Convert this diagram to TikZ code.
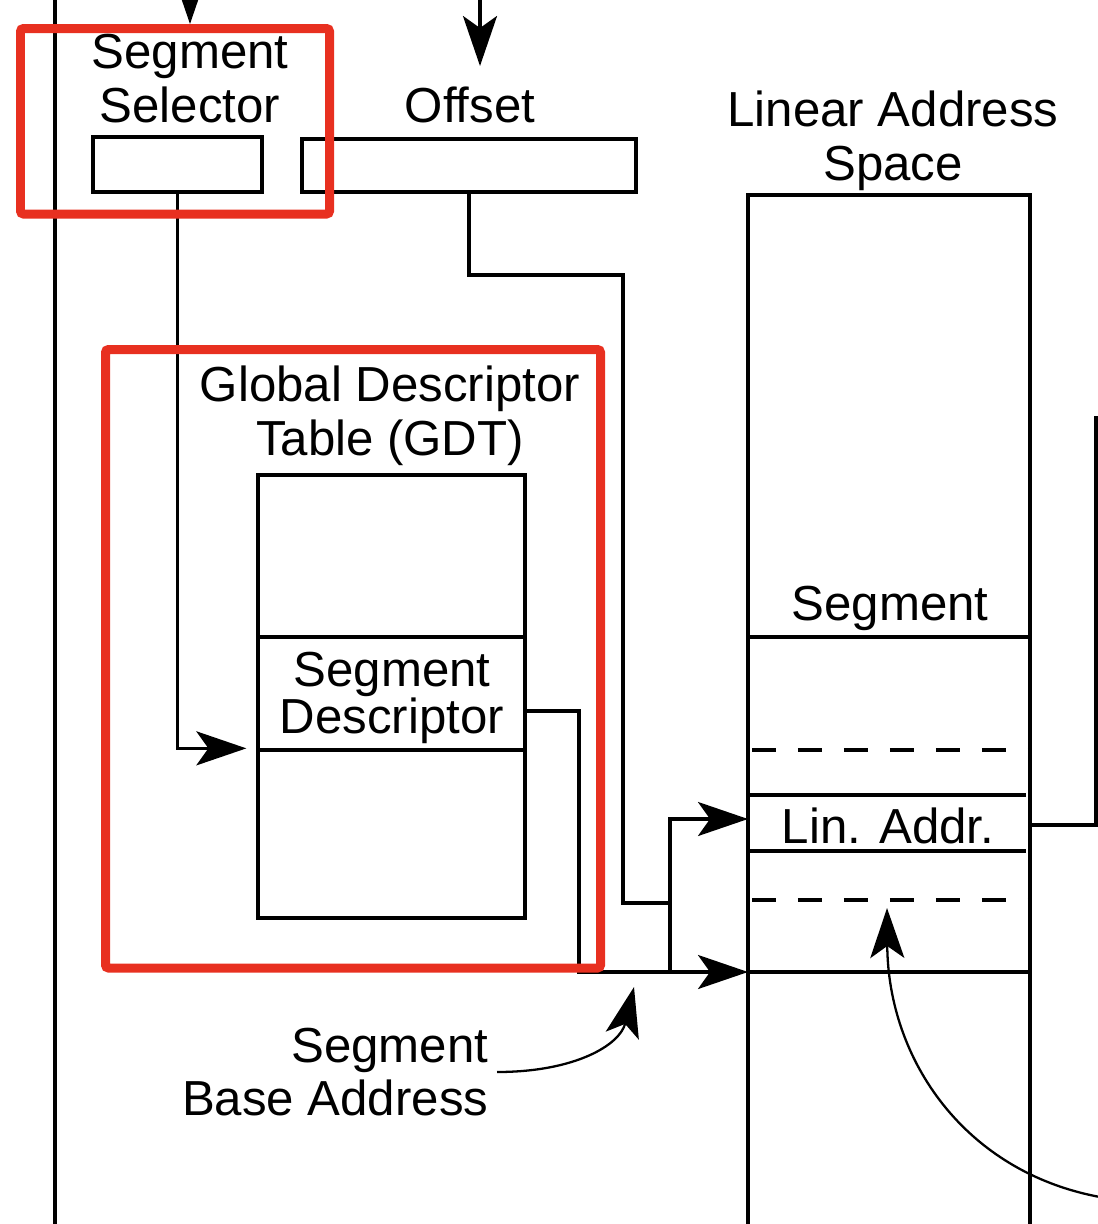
\documentclass[tikz,border=0pt]{standalone}
\usepackage{fontspec}
\setmainfont{Liberation Sans}
\usepackage{xcolor}
\usetikzlibrary{arrows.meta}

\definecolor{hlred}{RGB}{232,48,32}

\tikzset{
  box/.style={draw,line width=1.9pt,inner sep=0pt},
  txt/.style={font=\fontsize{28}{30.5}\selectfont,inner sep=0pt,align=center},
  arr/.style={-{Stealth[length=1.0cm,width=0.68cm,inset=0.24cm]}},
  hl/.style={draw=hlred,line width=0.18cm,rounded corners=0.06cm},
  dsh/.style={dash pattern=on 0.48cm off 0.44cm}
}

\begin{document}
\begin{tikzpicture}[x=0.02cm,y=-0.02cm,line width=1.9pt]
                \useasboundingbox (0,0) rectangle (1098,1224);
                \clip (0,0) rectangle (1098,1224);

                % selector and offset
                \node (ssl) at (190,78.5) [txt] {Segment\\Selector};
                \node (sel) at (177.5,164.5) [box,minimum width=3.38cm,minimum height=1.1cm] {};
                \node (ofl) at (470,105) [txt] {Offset};
                \node (off) at (469,165.5) [box,minimum width=6.68cm,minimum height=1.06cm] {};

                % descriptor table
                \node (gdtl) at (390,416) [txt] {Global Descriptor\\Table (GDT)};
                \node (gdt1) at (391.5,556) [box,minimum width=5.34cm,minimum height=3.24cm] {};
                \node (gdtsd) at (391.5,693.5) [box,minimum width=5.34cm,minimum height=2.26cm] {};
                \node (gdt3) at (391.5,834) [box,minimum width=5.34cm,minimum height=3.36cm] {};
                \node (sdl) at (392,698) [txt,font=\fontsize{28}{26}\selectfont] {Segment\\Descriptor};

                % linear address space
                \node (las) at (893,141) [txt] {Linear Address\\Space};
                \draw (748,1230) -- (748,195) -- (1030,195) -- (1030,1230);
                \draw (748,637) -- (1030,637) (748,972) -- (1030,972);
                \draw (748,795) -- (1026,795) (748,851) -- (1026,851);
                \draw[dsh] (752,750) -- (1030,750) (752,900) -- (1030,900);
                \node (segl) at (890,608) [txt] {Segment};
                \node (lin) at (888,826) [txt] {Lin. Addr.};
                \node (sba) at (490,1072) [txt,anchor=east,align=right] {Segment\\Base Address};

                \coordinate (s0) at (190,-10);
                \coordinate (s1) at (190,24);
                \coordinate (o0) at (480,-10);
                \coordinate (o1) at (480,66);
                \coordinate (la) at (748,819);
                \coordinate (base) at (748,972);
                \coordinate (j1) at (623,275);
                \coordinate (j2) at (670,903);
                \coordinate (j3) at (670,972);
                \coordinate (d1) at (579,972);
                \coordinate (r0) at (1030,825);
                \coordinate (r1) at (1096,416);
                \coordinate (c0) at (1100,1197);
                \coordinate (c1) at (887,908);
                \coordinate (b1) at (634,987);

                \draw (55,-10) -- (55,1234);
                \draw[arr] (s0) -- (s1);
                \draw[arr] (o0) -- (o1);
                \draw[arr] (sel.south) |- ([xshift=-0.2cm]gdt3.north west);
                \draw (off.south) |- (j1) |- (j2);
                \draw[arr] (j3) |- (la);
                \draw[arr] ([yshift=-0.35cm]gdtsd.east) -| (d1) -- (base);
                \draw (r0) -| (r1);
                \draw[arr,line width=1.3pt] (c0) .. controls (965,1172) and (888,1060) .. (c1);
                \draw[arr,line width=1.3pt] ([xshift=0.14cm]sba.east) .. controls (575,1072) and (620,1045) .. (b1);

                % highlights
                \draw[hl] (20.5,28.5) rectangle (329.5,214);
                \draw[hl] (105.5,349.5) rectangle (600.5,968);
    
            \end{tikzpicture}
\end{document}
